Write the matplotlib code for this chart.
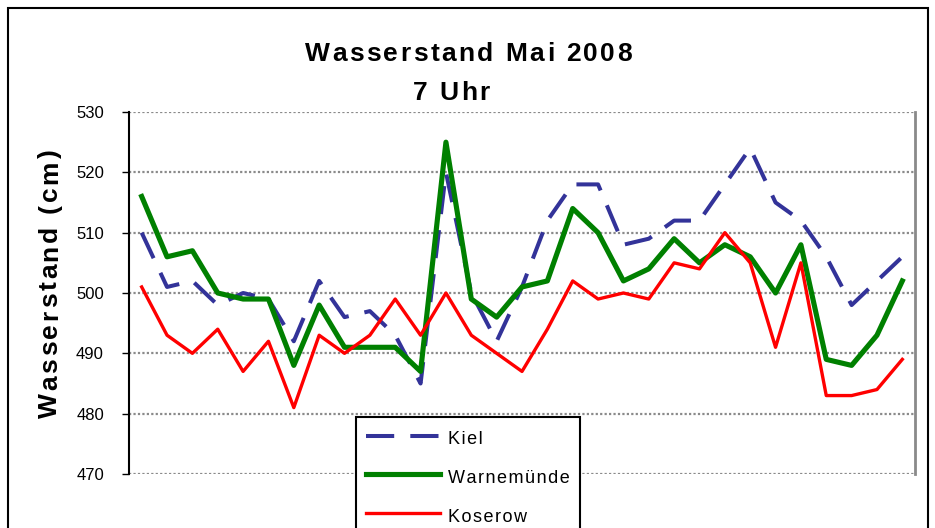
import matplotlib
matplotlib.use("Agg")
import matplotlib.pyplot as plt
from matplotlib import font_manager as fm
from matplotlib.ft2font import FT2Font
from matplotlib.patches import Rectangle

# Wasserstand (cm) um 7 Uhr, 1.-31. Mai 2008
days = list(range(1, 32))
kiel = [510, 501, 502, 498, 500, 499, 492, 502, 496, 497,
        493, 485, 520, 500, 492, 501, 512, 518, 518, 508,
        509, 512, 512, 518, 524, 515, 512, 506, 498, 502, 506]
warnemuende = [516, 506, 507, 500, 499, 499, 488, 498, 491, 491,
               491, 487, 525, 499, 496, 501, 502, 514, 510, 502,
               504, 509, 505, 508, 506, 500, 508, 489, 488, 493, 502]
koserow = [501, 493, 490, 494, 487, 492, 481, 493, 490, 493,
           499, 493, 500, 493, 490, 487, 494, 502, 499, 500,
           499, 505, 504, 510, 505, 491, 505, 483, 483, 484, 489]
series_names = ["Kiel", "Warnemünde", "Koserow"]
yticks = [470, 480, 490, 500, 510, 520, 530]

W, H = 935, 528


def fig_xy(x, y):
    # pixel coords (from top left) -> figure fraction
    return x / W, 1 - y / H


def font_path(families, weight):
    for fam in families:
        try:
            return fm.findfont(fm.FontProperties(family=fam, weight=weight),
                               fallback_to_default=False)
        except ValueError:
            pass
    return fm.findfont(fm.FontProperties(weight=weight))


def spaced_text(fig, s, x, y, size, gap, rotation=0, align="center",
                weight="bold", families=("Liberation Sans",)):
    """Letter-spaced text, one Text per character, like the old Excel look."""
    path = font_path(families, weight)
    ft = FT2Font(path)
    ft.set_size(size, fig.dpi)
    advs = [ft.load_char(ord(c)).linearHoriAdvance / 65536 for c in s]
    total = sum(advs) + gap * (len(s) - 1)
    start = -total / 2 if align == "center" else 0
    prop = fm.FontProperties(fname=path, size=size)
    pos = start
    for c, a in zip(s, advs):
        mid = pos + a / 2
        px, py = (x + mid, y) if rotation == 0 else (x, y - mid)
        fig.text(*fig_xy(px, py), c, fontproperties=prop, rotation=rotation,
                 rotation_mode="anchor", ha="center", va="baseline")
        pos += a + gap


fig = plt.figure(figsize=(W / 100, H / 100), dpi=100)
plt.rcParams["font.family"] = ["Liberation Sans", "DejaVu Sans"]

ax = fig.add_axes([129 / W, 1 - 474 / H, (915 - 129) / W, (474 - 112) / H])
ax.plot(days, kiel, color="#333399", lw=2.9, ls=(0, (7, 4)), label=series_names[0])
ax.plot(days, warnemuende, color="#008000", lw=3.7, label=series_names[1])
ax.plot(days, koserow, color="#ff0000", lw=2.4, label=series_names[2])

ax.set_xlim(0.5, 31.5)
ax.set_ylim(470, 530)
ax.set_yticks(yticks)
ax.set_xticks([])
ax.yaxis.grid(True, color="#8a8a8a", lw=1.6, ls=(0, (1, 1)))
ax.set_axisbelow(True)
for side in ("top", "bottom"):
    ax.spines[side].set_visible(False)
ax.spines["right"].set_color("#8a8a8a")
ax.spines["right"].set_linewidth(2)
ax.spines["left"].set_color("black")
ax.spines["left"].set_linewidth(1.5)
ax.tick_params(axis="y", direction="out", length=5, width=1, color="black",
               labelsize=12, pad=13)

leg = ax.legend(
    labels=["\u200a".join(n) for n in series_names],
    handles=ax.get_lines(),
    loc="upper left", bbox_to_anchor=fig_xy(356, 417), bbox_transform=fig.transFigure,
    borderaxespad=0, fontsize=13, handlelength=4.1, handleheight=1.6,
    handletextpad=0.45, labelspacing=0.86, borderpad=0.55,
    fancybox=False, framealpha=1, edgecolor="black")
leg.get_frame().set_linewidth(1.5)

# title and y label
spaced_text(fig, "Wasserstand Mai 2008", 468.5, 61, 19, 2.4)
spaced_text(fig, "7 Uhr", 451, 100, 19, 2.4)
spaced_text(fig, "Wasserstand (cm)", 57, 418, 19, 2.8, rotation=90, align="start")

# chart border (runs off the bottom of the picture)
fig.add_artist(Rectangle((8 / W, -0.1), 920 / W, 1 - 8 / H + 0.1,
                         transform=fig.transFigure, fill=False, ec="black", lw=1.5))

fig.savefig("out.png", dpi=100)
